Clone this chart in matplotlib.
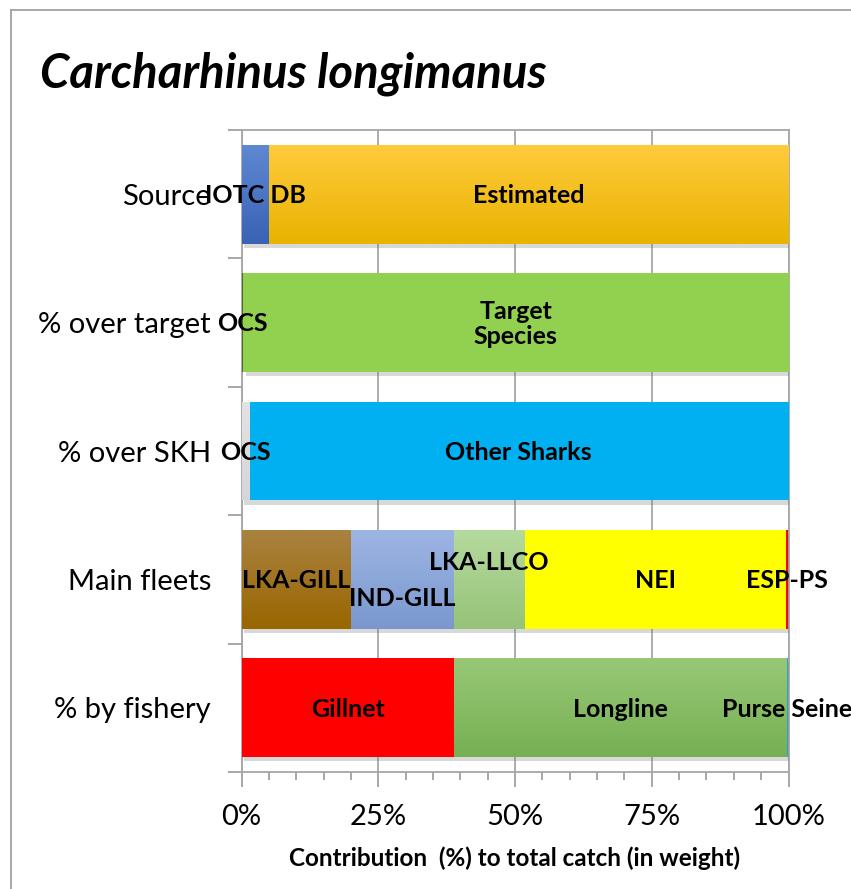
import numpy as np
import matplotlib
matplotlib.use("Agg")
import matplotlib.pyplot as plt
from matplotlib import patheffects as pe
from matplotlib.colors import LinearSegmentedColormap
from matplotlib.ticker import MultipleLocator, FuncFormatter

plt.rcParams['font.family'] = ['Lato', 'DejaVu Sans']

title = "Carcharhinus longimanus"
categories = ["Source", "% over target", "% over SKH", "Main fleets", "% by fishery"]
xlabel = "Contribution  (%) to total catch (in weight)"

source_labels = ["IOTC DB", "Estimated"]
source_values = [5.1, 94.9]
target_labels = ["OCS", "Target\nSpecies"]
target_values = [0.3, 99.7]
skh_labels = ["OCS", "Other Sharks"]
skh_values = [1.3, 98.7]
fleet_labels = ["LKA-GILL", "IND-GILL", "LKA-LLCO", "NEI", "ESP-PS"]
fleet_values = [20.0, 18.8, 12.8, 48.0, 0.4]
fishery_labels = ["Gillnet", "Longline", "Purse Seine"]
fishery_values = [38.8, 60.8, 0.4]

# styles: (top colour, bottom colour) per segment
source_colors = [("#5E88D2", "#3A62B5"), ("#FFCB3C", "#E9B300")]
target_colors = [("#4E6B2A", "#4E6B2A"), ("#92D050", "#92D050")]
skh_colors = [("#E3E3E3", "#D6D6D6"), ("#00B0F0", "#00B0F0")]
fleet_colors = [("#A98240", "#996600"), ("#9DB5E3", "#7A98CF"), ("#B5DA9E", "#96C378"),
                ("#FFFF00", "#FFFF00"), ("#FF0000", "#FF0000")]
fishery_colors = [("#FF0000", "#FF0000"), ("#98C877", "#76B053"), ("#20A8C8", "#20A8C8")]
fleet_label_dy = {"IND-GILL": -13, "LKA-LLCO": 13}  # points

rows = [
    (source_labels, source_values, source_colors),
    (target_labels, target_values, target_colors),
    (skh_labels, skh_values, skh_colors),
    (fleet_labels, fleet_values, fleet_colors),
    (fishery_labels, fishery_values, fishery_colors),
]

W, H = 851, 889
fig = plt.figure(figsize=(W / 100, H / 100), dpi=100)
ax = fig.add_axes([241.5 / W, (H - 772) / H, (788.5 - 241.5) / W, (772 - 130) / H])

# outer chart frame (left + top visible)
fig.add_artist(plt.Line2D([11 / W, 11 / W], [0, 1 - 10 / H], transform=fig.transFigure,
                          color="#A0A0A0", lw=1.3))
fig.add_artist(plt.Line2D([11 / W, 1], [1 - 10 / H, 1 - 10 / H], transform=fig.transFigure,
                          color="#A0A0A0", lw=1.3))

n = len(categories)
ypos = np.arange(n)[::-1]
bar_h = 0.77
shadow = [pe.SimplePatchShadow(offset=(2, -3), shadow_rgbFace="#808080", alpha=0.3), pe.Normal()]

for (labels, values, colors), y in zip(rows, ypos):
    lefts = np.concatenate([[0], np.cumsum(values)[:-1]])
    for lab, v, l, (ct, cb) in zip(labels, values, lefts, colors):
        thin = v < 1
        bars = ax.barh(y, v, left=l, height=bar_h, color=cb, edgecolor="none", zorder=3,
                       path_effects=None if thin else shadow)
        p = bars.patches[0]
        if ct != cb:
            cmap = LinearSegmentedColormap.from_list("g", [cb, ct])
            x0, y0 = p.get_x(), p.get_y()
            grad = np.linspace(0, 1, 64).reshape(-1, 1)
            im = ax.imshow(grad, extent=(x0, x0 + p.get_width(), y0, y0 + p.get_height()),
                           origin="lower", cmap=cmap, aspect="auto", zorder=3.5,
                           interpolation="bilinear")
            im.set_clip_path(p)
        dy = fleet_label_dy.get(lab, 0) if labels is fleet_labels else 0
        ax.annotate(lab, (l + v / 2, y), xytext=(0, dy - 1), textcoords="offset points",
                    ha="center", va="center", fontsize=18, fontweight="bold",
                    color="black", zorder=6, linespacing=1.15)

ax.set_xlim(0, 100)
ax.set_ylim(-0.5, n - 0.5)
ax.set_yticks(ypos)
ax.set_yticklabels(categories, fontsize=21)
ax.set_yticks(np.arange(-0.5, n, 1), minor=True)
ax.tick_params(axis="y", which="major", length=0, pad=22)
ax.tick_params(axis="y", which="minor", length=10, color="#A0A0A0", width=1.3)

ax.xaxis.set_major_locator(MultipleLocator(25))
ax.xaxis.set_minor_locator(MultipleLocator(5))
ax.xaxis.set_major_formatter(FuncFormatter(lambda v, p: f"{v:.0f}%"))
ax.tick_params(axis="x", which="major", length=11, color="#A0A0A0", width=1.3,
               labelsize=21, pad=12)
ax.tick_params(axis="x", which="minor", length=6, color="#A0A0A0", width=1.3)
ax.grid(axis="x", which="major", color="#A6A6A6", lw=1.3, zorder=0)
ax.set_axisbelow(True)
for s in ax.spines.values():
    s.set_color("#A6A6A6")
    s.set_linewidth(1.3)

ax.set_xlabel(xlabel, fontsize=17.5, fontweight="bold", labelpad=12)
fig.text(40 / W, 1 - 74 / H, title, fontsize=34, fontweight="bold", fontstyle="italic",
         ha="left", va="center")

fig.savefig("out.png", dpi=100)
